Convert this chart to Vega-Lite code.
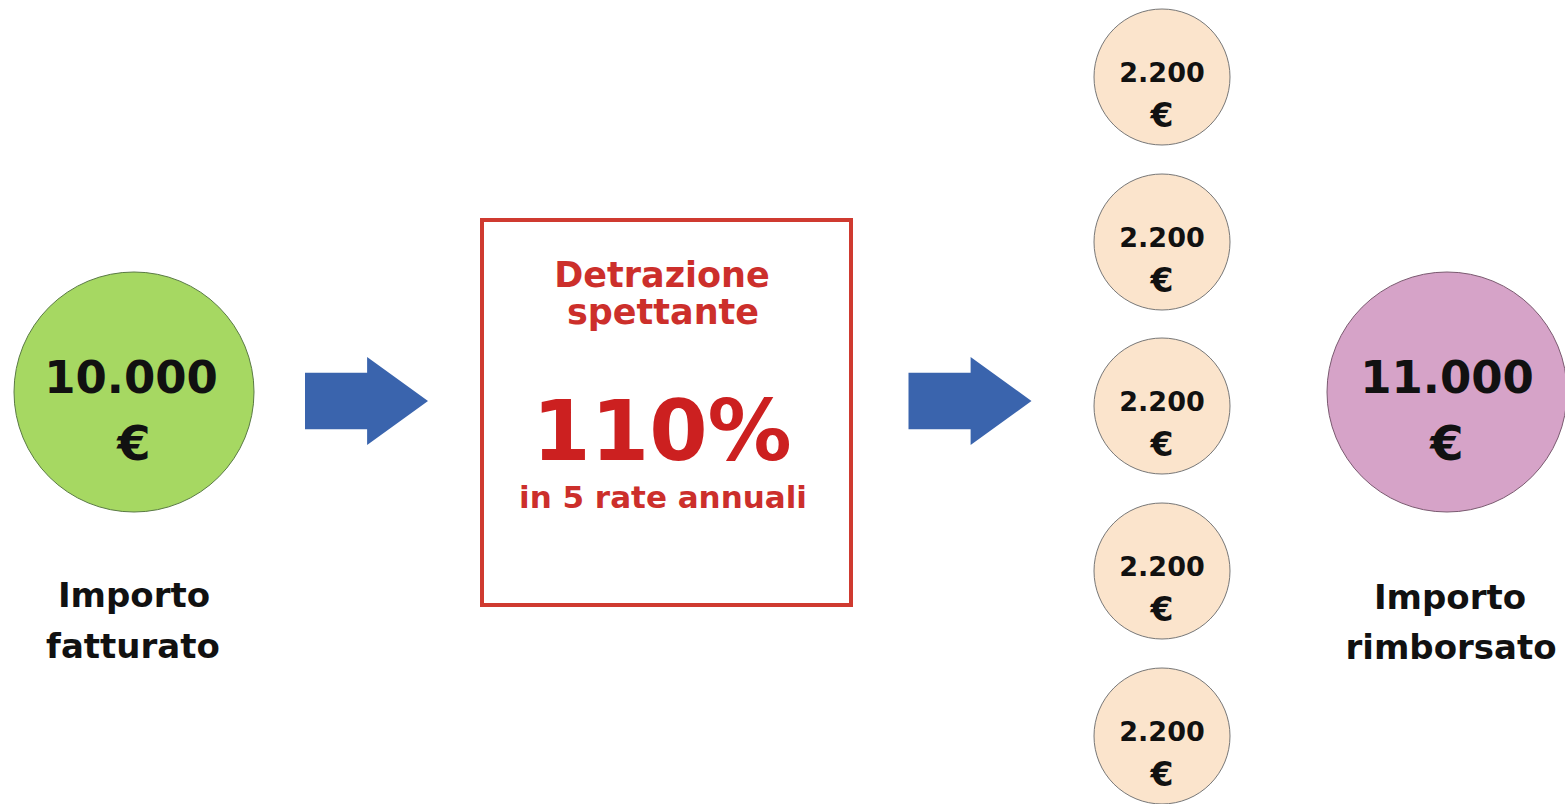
{
  "$schema": "https://vega.github.io/schema/vega-lite/v6.json",
  "width": 1565,
  "height": 804,
  "padding": 0,
  "autosize": {"type": "none"},
  "background": "#ffffff",
  "config": {"view": {"stroke": null}},
  "encoding": {
    "x": {"field": "x", "type": "quantitative", "scale": {"domain": [0, 1565], "nice": false, "zero": false}, "axis": null},
    "y": {"field": "y", "type": "quantitative", "scale": {"domain": [0, 804], "nice": false, "zero": false, "reverse": true}, "axis": null}
  },
  "layer": [
    {
      "data": {"values": [{"nodo": "Importo fatturato", "x": 134, "y": 392}]},
      "mark": {"type": "point", "shape": "circle", "filled": true, "size": 57600, "fill": "#a6d862", "fillOpacity": 1, "stroke": "#5a7a45", "strokeWidth": 1, "opacity": 1}
    },
    {
      "data": {"values": [{"nodo": "Importo rimborsato", "x": 1447, "y": 392}]},
      "mark": {"type": "point", "shape": "circle", "filled": true, "size": 57600, "fill": "#d6a3c8", "fillOpacity": 1, "stroke": "#7a5a70", "strokeWidth": 1, "opacity": 1}
    },
    {
      "data": {"values": [
        {"rata": 1, "x": 1162, "y": 77},
        {"rata": 2, "x": 1162, "y": 242},
        {"rata": 3, "x": 1162, "y": 406},
        {"rata": 4, "x": 1162, "y": 571},
        {"rata": 5, "x": 1162, "y": 736}
      ]},
      "mark": {"type": "point", "shape": "circle", "filled": true, "size": 18496, "fill": "#fbe4cc", "fillOpacity": 1, "stroke": "#777777", "strokeWidth": 1, "opacity": 1}
    },
    {
      "data": {"values": [{"passo": "a", "x": 366.5, "y": 401}, {"passo": "b", "x": 970, "y": 401}]},
      "mark": {"type": "point", "shape": "M-1,-0.46L0.01,-0.46L0.01,-0.715L1,0L0.01,0.715L0.01,0.46L-1,0.46Z", "filled": true, "size": 15129, "fill": "#3a64ad", "fillOpacity": 1, "strokeWidth": 0, "opacity": 1}
    },
    {
      "data": {"values": [{"box": "Detrazione", "x": 482, "x2": 851, "y": 220, "y2": 605}]},
      "mark": {"type": "rect", "fillOpacity": 0, "fill": "#ffffff", "stroke": "#cf3a30", "strokeWidth": 4},
      "encoding": {"x2": {"field": "x2"}, "y2": {"field": "y2"}}
    },
    {
      "data": {"values": [{"t": "10.000", "x": 131, "y": 393}, {"t": "11.000", "x": 1447, "y": 393}]},
      "mark": {"type": "text", "font": "DejaVu Sans", "fontWeight": "bold", "fontSize": 45, "align": "center", "baseline": "alphabetic", "color": "#111111"},
      "encoding": {"text": {"field": "t"}}
    },
    {
      "data": {"values": [{"t": "€", "x": 134, "y": 460}, {"t": "€", "x": 1447, "y": 460}]},
      "mark": {"type": "text", "font": "DejaVu Sans", "fontWeight": "bold", "fontSize": 48, "align": "center", "baseline": "alphabetic", "color": "#111111"},
      "encoding": {"text": {"field": "t"}}
    },
    {
      "data": {"values": [
        {"t": "2.200", "x": 1162, "y": 82},
        {"t": "2.200", "x": 1162, "y": 247},
        {"t": "2.200", "x": 1162, "y": 411},
        {"t": "2.200", "x": 1162, "y": 576},
        {"t": "2.200", "x": 1162, "y": 741}
      ]},
      "mark": {"type": "text", "font": "DejaVu Sans", "fontWeight": "bold", "fontSize": 27, "align": "center", "baseline": "alphabetic", "color": "#111111"},
      "encoding": {"text": {"field": "t"}}
    },
    {
      "data": {"values": [
        {"t": "€", "x": 1162, "y": 127},
        {"t": "€", "x": 1162, "y": 292},
        {"t": "€", "x": 1162, "y": 456},
        {"t": "€", "x": 1162, "y": 621},
        {"t": "€", "x": 1162, "y": 786}
      ]},
      "mark": {"type": "text", "font": "DejaVu Sans", "fontWeight": "bold", "fontSize": 33, "align": "center", "baseline": "alphabetic", "color": "#111111"},
      "encoding": {"text": {"field": "t"}}
    },
    {
      "data": {"values": [
        {"t": "Importo", "x": 134, "y": 607},
        {"t": "fatturato", "x": 133, "y": 658},
        {"t": "Importo", "x": 1450, "y": 609},
        {"t": "rimborsato", "x": 1451, "y": 659}
      ]},
      "mark": {"type": "text", "font": "DejaVu Sans", "fontWeight": "bold", "fontSize": 34, "align": "center", "baseline": "alphabetic", "color": "#111111"},
      "encoding": {"text": {"field": "t"}}
    },
    {
      "data": {"values": [{"t": "Detrazione", "x": 662, "y": 287}, {"t": "spettante", "x": 663, "y": 324}]},
      "mark": {"type": "text", "font": "DejaVu Sans", "fontWeight": "bold", "fontSize": 35, "align": "center", "baseline": "alphabetic", "color": "#cc2f2b"},
      "encoding": {"text": {"field": "t"}}
    },
    {
      "data": {"values": [{"t": "110%", "x": 662, "y": 460}]},
      "mark": {"type": "text", "font": "DejaVu Sans", "fontWeight": "bold", "fontSize": 84, "align": "center", "baseline": "alphabetic", "color": "#cc2020"},
      "encoding": {"text": {"field": "t"}}
    },
    {
      "data": {"values": [{"t": "in 5 rate annuali", "x": 663, "y": 508}]},
      "mark": {"type": "text", "font": "DejaVu Sans", "fontWeight": "bold", "fontSize": 31, "align": "center", "baseline": "alphabetic", "color": "#cc2f2b"},
      "encoding": {"text": {"field": "t"}}
    }
  ]
}
